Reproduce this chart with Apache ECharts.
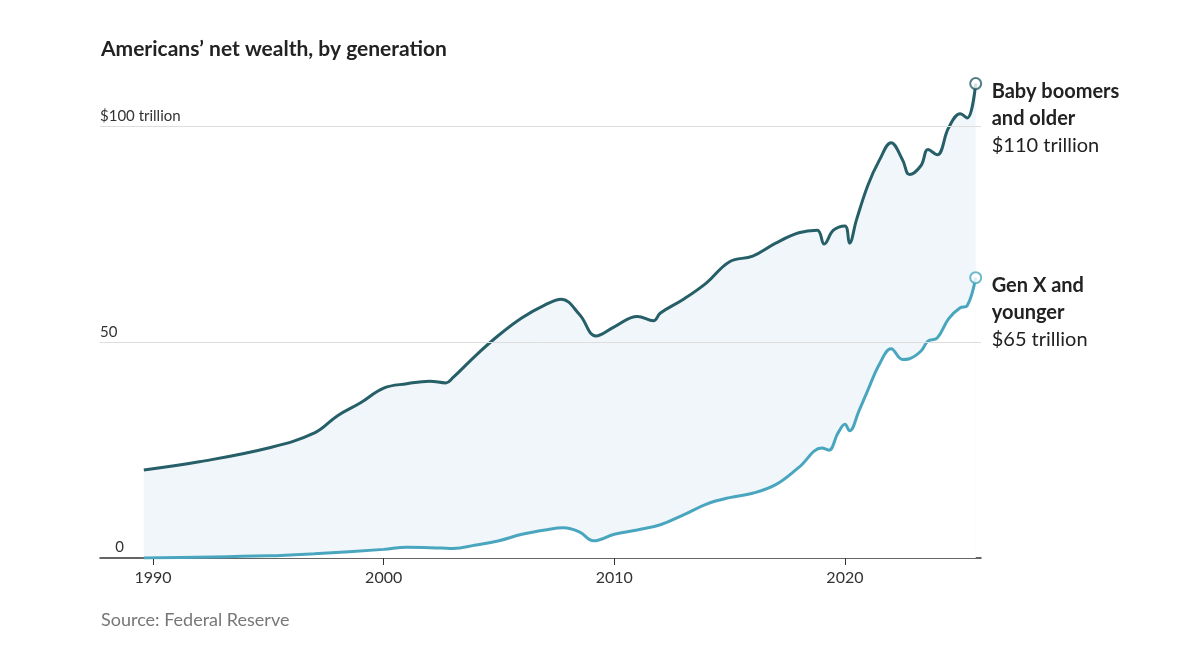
<!DOCTYPE html>
<html><head><meta charset="utf-8">
<script src="https://cdn.jsdelivr.net/npm/echarts@6/dist/echarts.min.js"></script>
<style>html,body{margin:0;background:#fff}#c{width:1200px;height:648px}</style>
</head><body><div id="c"></div>
<script>
const boomerYears=[1989.6,1992,1995,1997,1998,1999,2000,2001,2002,2002.7,2003,2004,2005,2006,2007,2007.7,2008.5,2009.2,2010,2011,2011.7,2012,2013,2014,2015,2016,2017,2018,2018.8,2019.1,2019.5,2020,2020.2,2020.5,2021,2021.5,2022,2022.5,2022.8,2023.3,2023.6,2024,2024.5,2025,2025.3,2025.67];
const boomerValues=[20.4,22.3,25.5,29,33,36,39.4,40.4,41,40.6,41.8,47,51.7,55.7,58.7,60,56.4,51.5,53.6,56,55,56.8,60,63.8,68.7,70,73,75.4,76,72.8,76,77,73,78.4,86.5,92.3,96.3,92.3,88.9,91,94.7,93.5,99.8,103,102,110];
const genxYears=[1989.6,1995,1997,2000,2001,2002.5,2003,2004,2005,2006,2007,2007.8,2008.5,2009.1,2010,2011,2012,2013,2014,2015,2016,2017,2018,2019,2019.3,2019.7,2020,2020.2,2020.6,2021,2021.5,2022,2022.5,2022.8,2023.3,2023.6,2024,2024.5,2025,2025.3,2025.67];
const genxValues=[0,0.5,1,2,2.5,2.3,2.2,3,4,5.5,6.5,7,6,4,5.5,6.5,7.7,10,12.5,14,15,17,21,25.5,25,29,31,29.5,34,39,45,48.5,46,46.2,48,50.3,51,55.5,58,58.5,65];
const xTicks=[1990,2000,2010,2020];
const yTicks=[0,50,100];
const font='"Lato","Noto Sans",sans-serif';
const pairs=(xs,ys)=>xs.map((x,i)=>[x,ys[i]]);
const c=echarts.init(document.getElementById('c'));
function endPts(xs,ys){return [[xs[xs.length-1],ys[ys.length-1]]];}
const rich={b:{fontFamily:font,fontWeight:'bold',fontSize:20,color:'#222',lineHeight:27},n:{fontFamily:font,fontSize:20,color:'#222',lineHeight:27}};
c.setOption({
animation:false,
title:{text:'Americans’ net wealth, by generation',left:96,top:34,textStyle:{fontFamily:font,fontWeight:'bold',fontSize:21,color:'#222'}},
graphic:[{type:'text',left:101,top:611,style:{text:'Source: Federal Reserve',fontFamily:font,fontSize:18,fill:'#777'}}],
grid:{left:100,right:219,top:62,bottom:90},
xAxis:{type:'value',min:1987.7,max:2025.9,
 axisLine:{lineStyle:{color:'#333',width:1.5}},
 axisTick:{show:true,customValues:xTicks,length:7,lineStyle:{color:'#333'}},
 axisLabel:{customValues:xTicks,formatter:v=>String(v),fontFamily:font,fontSize:16,color:'#333',margin:12},
 splitLine:{show:false}},
yAxis:{type:'value',min:0,max:115,
 axisLine:{show:false},axisTick:{show:false},
 axisLabel:{customValues:yTicks,inside:true,verticalAlign:'bottom',margin:0,padding:[0,0,3,0],fontFamily:font,fontSize:15,color:'#333',
  formatter:v=>v===100?'$100 trillion':(v===0?'    0':String(v))},
 splitLine:{show:false}},
series:[
{type:'line',data:pairs(boomerYears,boomerValues),smooth:0.4,showSymbol:false,z:2,
 lineStyle:{color:'#265f68',width:3},areaStyle:{color:'rgba(220,233,244,0.6)'},
 markLine:{silent:true,symbol:'none',label:{show:false},lineStyle:{color:'#ddd',type:'solid',width:1},data:[{yAxis:50},{yAxis:100}]},
 endLabel:{show:true,offset:[8,-6],align:'left',verticalAlign:'top',formatter:'{b|Baby boomers}\n{b|and older}\n{n|$110 trillion}',rich}},
{type:'line',data:pairs(genxYears,genxValues),smooth:0.4,showSymbol:false,z:3,
 lineStyle:{color:'#4aa6bf',width:3},areaStyle:{color:'#fff',opacity:1},
 endLabel:{show:true,offset:[8,-6],align:'left',verticalAlign:'top',formatter:'{b|Gen X and}\n{b|younger}\n{n|$65 trillion}',rich}},
{type:'scatter',data:endPts(boomerYears,boomerValues),symbolSize:11,z:5,itemStyle:{color:'#fff',borderColor:'#265f68',borderWidth:2}},
{type:'scatter',data:endPts(genxYears,genxValues),symbolSize:11,z:5,itemStyle:{color:'#fff',borderColor:'#4aa6bf',borderWidth:2}}
]});
</script></body></html>
